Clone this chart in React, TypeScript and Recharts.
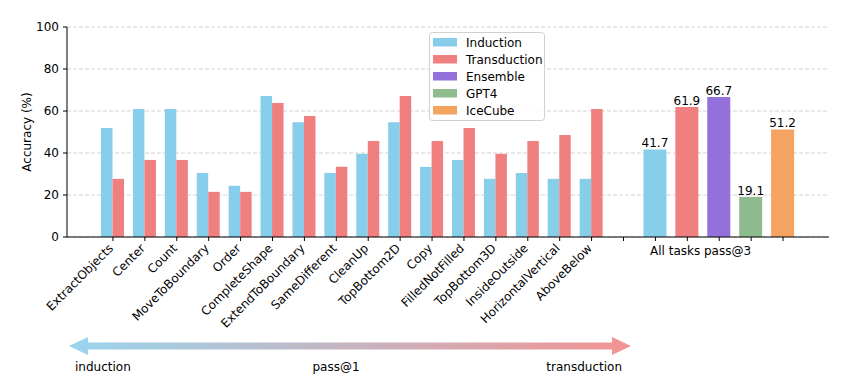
import React from 'react';
import { BarChart, Bar, XAxis, YAxis, CartesianGrid, Cell, LabelList } from 'recharts';

const taskNames = [
  'ExtractObjects', 'Center', 'Count', 'MoveToBoundary', 'Order', 'CompleteShape',
  'ExtendToBoundary', 'SameDifferent', 'CleanUp', 'TopBottom2D', 'Copy',
  'FilledNotFilled', 'TopBottom3D', 'InsideOutside', 'HorizontalVertical', 'AboveBelow',
];
const inductionValues = [51.9, 60.9, 60.9, 30.5, 24.4, 67.1, 54.7, 30.5, 39.6, 54.7, 33.4, 36.7, 27.7, 30.5, 27.7, 27.7];
const transductionValues = [27.7, 36.7, 36.7, 21.5, 21.5, 63.8, 57.6, 33.4, 45.7, 67.1, 45.7, 51.9, 39.6, 45.7, 48.6, 60.9];

const aggNames = ['Induction', 'Transduction', 'Ensemble', 'GPT4', 'IceCube'];
const aggValues = [41.7, 61.9, 66.7, 19.1, 51.2];
const aggColors = ['#87CEEB', '#F08080', '#9370DB', '#8FBC8F', '#F4A460'];

const yTicks = [0, 20, 40, 60, 80, 100];
const groupLabel = 'All tasks pass@3';
const arrowLabels = ['induction', 'pass@1', 'transduction'];

type Row = { name: string; induction?: number; transduction?: number; total?: number; color?: string };

const data: Row[] = [
  ...taskNames.map((n, i) => ({ name: n, induction: inductionValues[i], transduction: transductionValues[i] })),
  { name: '__gap__' },
  ...aggNames.map((n, i) => ({ name: 'agg_' + n, total: aggValues[i], color: aggColors[i] })),
];

const FONT = '"DejaVu Sans", sans-serif';

const XTick = (props: any) => {
  const { x, y, payload, index } = props;
  const name: string = payload.value;
  if (index < taskNames.length) {
    return (
      <g transform={`translate(${x + 1},${y + 6})`}>
        <text transform="rotate(-45)" textAnchor="end" fontSize={12} fontFamily={FONT} fill="#000">
          {name}
        </text>
      </g>
    );
  }
  if (name === 'agg_GPT4') {
    return (
      <text x={x} y={y + 12} textAnchor="end" fontSize={12} fontFamily={FONT} fill="#000">
        {groupLabel}
      </text>
    );
  }
  return null;
};

export default function App() {
  return (
    <div style={{ position: 'fixed', left: 0, top: 0, width: 851, height: 389, background: '#fff', fontFamily: FONT }}>
      <BarChart
        width={851}
        height={389}
        data={data}
        margin={{ top: 27, right: 22, bottom: 122, left: 27 }}
        barGap={0}
      >
        <CartesianGrid xAxisId="a" vertical={false} stroke="#d3d3d3" strokeDasharray="4 2" />
        <XAxis
          xAxisId="a"
          dataKey="name"
          type="category"
          interval={0}
          height={30}
          padding={{ left: 30, right: 30 }}
          tick={<XTick />}
          tickSize={4}
          tickLine={{ stroke: '#000' }}
          axisLine={{ stroke: '#000' }}
        />
        <XAxis xAxisId="b" dataKey="name" type="category" hide padding={{ left: 30, right: 30 }} />
        <XAxis
          xAxisId="top"
          dataKey="name"
          type="category"
          orientation="top"
          height={0}
          tick={false}
          tickLine={false}
          axisLine={{ stroke: '#000' }}
        />
        <YAxis
          domain={[0, 100]}
          ticks={yTicks}
          width={40}
          tickSize={4}
          tickMargin={4}
          tick={{ fontSize: 12, fill: '#000', fontFamily: FONT }}
          tickLine={{ stroke: '#000' }}
          axisLine={{ stroke: '#000' }}
        />
        <YAxis
          yAxisId="right"
          orientation="right"
          domain={[0, 100]}
          width={0}
          tick={false}
          tickLine={false}
          axisLine={{ stroke: '#000' }}
        />
        <Bar xAxisId="a" dataKey="induction" fill="#87CEEB" barSize={11.5} isAnimationActive={false} />
        <Bar xAxisId="a" dataKey="transduction" fill="#F08080" barSize={11.5} isAnimationActive={false} />
        <Bar xAxisId="b" dataKey="total" barSize={23} isAnimationActive={false}>
          {data.map((d, i) => (
            <Cell key={i} fill={d.color || '#ccc'} />
          ))}
          <LabelList dataKey="total" position="top" offset={2} fontSize={12} fill="#000" fontFamily={FONT} />
        </Bar>
      </BarChart>
      <svg width={851} height={389} style={{ position: 'absolute', left: 0, top: 0, pointerEvents: 'none' }}>
        <defs>
          <linearGradient id="arrowGrad" x1="0" x2="1" y1="0" y2="0">
            <stop offset="0%" stopColor="#87CEEB" />
            <stop offset="100%" stopColor="#F08080" />
          </linearGradient>
        </defs>
        <text x={27} y={132} transform="rotate(-90 27 132)" textAnchor="middle" dominantBaseline="central" fontSize={12} fontFamily={FONT} fill="#000">
          Accuracy (%)
        </text>
        <g>
          <rect x={429.5} y={32.5} width={115} height={88} rx={3} fill="#fff" fillOpacity={0.85} stroke="#d0d0d0" />
          {aggNames.map((n, i) => (
            <g key={n}>
              <rect x={433} y={38 + i * 17} width={24} height={8.5} fill={aggColors[i]} />
              <text x={466} y={42.5 + i * 17} dominantBaseline="central" fontSize={12} fontFamily={FONT} fill="#000">
                {n}
              </text>
            </g>
          ))}
        </g>
        <path
          d="M69,346 L88,337 L88,342.5 L612,342.5 L612,337 L631,346 L612,355 L612,349.5 L88,349.5 L88,355 Z"
          fill="url(#arrowGrad)"
          fillOpacity={0.85}
        />
        <text x={75} y={371} fontSize={12} fontFamily={FONT} fill="#000">{arrowLabels[0]}</text>
        <text x={336} y={371} textAnchor="middle" fontSize={12} fontFamily={FONT} fill="#000">{arrowLabels[1]}</text>
        <text x={622} y={371} textAnchor="end" fontSize={12} fontFamily={FONT} fill="#000">{arrowLabels[2]}</text>
      </svg>
    </div>
  );
}
